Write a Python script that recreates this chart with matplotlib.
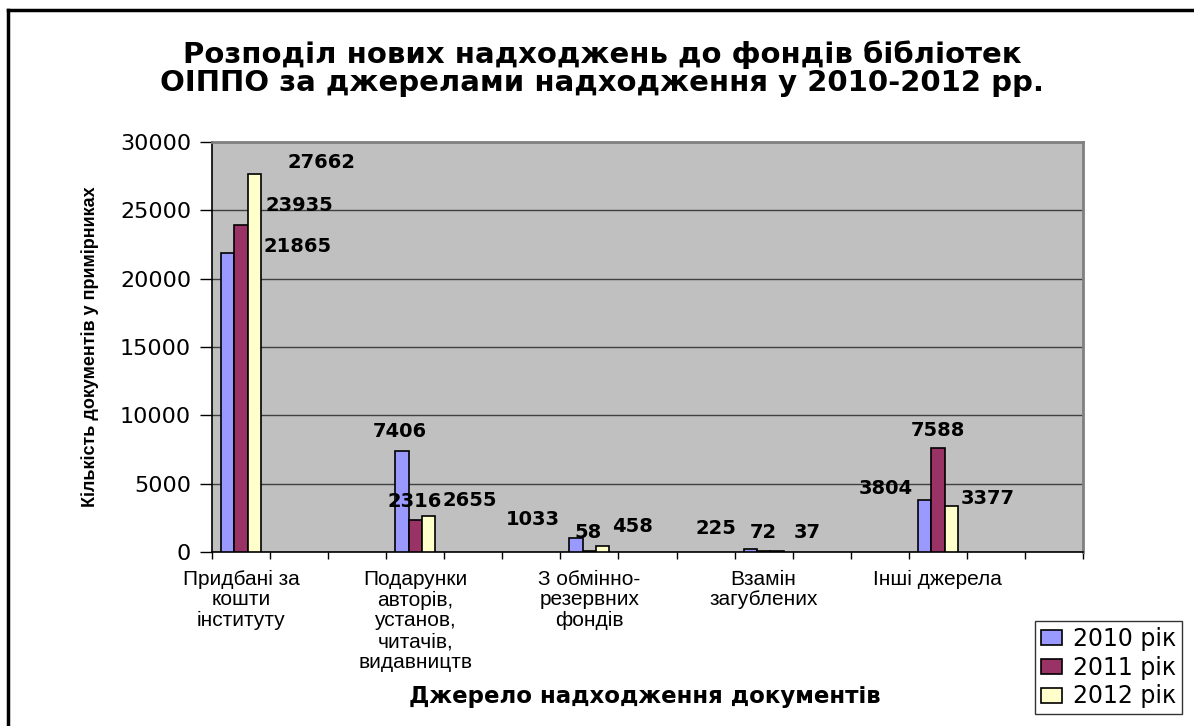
import matplotlib
matplotlib.use("Agg")
import matplotlib.pyplot as plt
from matplotlib.lines import Line2D
import numpy as np

# source categories, drawn every third slot of a 15-slot axis (as in the original sheet)
categories = ["Придбані за\nкошти\nінституту",
              "Подарунки\nавторів,\nустанов,\nчитачів,\nвидавництв",
              "З обмінно-\nрезервних\nфондів",
              "Взамін\nзагублених",
              "Інші джерела"]
years = ["2010 рік", "2011 рік", "2012 рік"]
v2010 = [21865, 7406, 1033, 225, 3804]
v2011 = [23935, 2316, 58, 72, 7588]
v2012 = [27662, 2655, 458, 37, 3377]

colors = ["#9999FF", "#993366", "#FFFFCC"]
# label offsets (pixels) from bar top centre, as Excel placed them
lbl_dx = [[70, -2, -43, -34, -39], [58, -1, -1, 0, 0], [67, 41, 30, 30, 36]]
lbl_dy = [[7, 19, 18, 20, 12], [19, 19, 19, 19, 18], [11, 15, 19, 19, 7]]

fig = plt.figure(figsize=(11.94, 7.26), dpi=100)
ax = fig.add_axes([212/1194, 1-552/726, 871/1194, 410/726])
ax.set_facecolor("#C0C0C0")

slots = 15
xpos = np.arange(0, slots, 3)[:len(categories)]
w = 0.23
series = [v2010, v2011, v2012]
for i, vals in enumerate(series):
    xs = xpos + (i-1)*w
    ax.bar(xs, vals, width=w, color=colors[i], edgecolor="black", linewidth=1.2,
           label=years[i], zorder=3)
    for j, v in enumerate(vals):
        ax.annotate(str(v), (xs[j], v), xytext=(lbl_dx[i][j], lbl_dy[i][j]),
                    textcoords="offset pixels", ha="center", va="center",
                    fontsize=14, fontweight="bold", family="DejaVu Sans", zorder=5)

ax.set_xlim(-0.5, slots-0.5)
ax.set_ylim(0, 30000)
ax.set_yticks(np.arange(0, 30001, 5000))
ax.yaxis.grid(True, color="#404040", linewidth=1)
ax.set_axisbelow(True)
ax.set_xticks(np.arange(-0.5, slots, 1))
ax.set_xticklabels([])
ax.tick_params(axis="x", direction="out", length=5, width=1)
ax.tick_params(axis="y", direction="out", length=9, width=1, labelsize=16, pad=6)
for t in ax.get_yticklabels():
    t.set_family("DejaVu Sans")
for s in ["left", "bottom"]:
    ax.spines[s].set_color("black")
    ax.spines[s].set_linewidth(1.2)
for s in ["top", "right"]:
    ax.spines[s].set_color("#808080")
    ax.spines[s].set_linewidth(2)

for x, c in zip(xpos, categories):
    ax.text(x, -0.043, c, transform=ax.get_xaxis_transform(), ha="center", va="top",
            fontsize=15, family="Liberation Sans", linespacing=1.12)

ax.set_ylabel("Кількість документів у примірниках", fontsize=13, fontweight="bold",
              family=["Liberation Sans Narrow", "Liberation Sans"], labelpad=15)
fig.text(645/1194, 1-697/726, "Джерело надходження документів", ha="center", va="center",
         fontsize=16.5, fontweight="bold", family="DejaVu Sans")
fig.text(602/1194, 1-69/726,
         "Розподіл нових надходжень до фондів бібліотек\nОІППО за джерелами надходження у 2010-2012 рр.",
         ha="center", va="center", fontsize=21, fontweight="bold", family="DejaVu Sans",
         linespacing=1.0)

leg = fig.legend(loc="upper left", bbox_to_anchor=(1035/1194, 1-621/726), frameon=True,
                 fancybox=False, edgecolor="black", handlelength=0.9, handleheight=0.6,
                 handletextpad=0.45, labelspacing=0.2, borderpad=0.25, borderaxespad=0,
                 prop={"family": "DejaVu Sans", "size": 17})
leg.get_frame().set_linewidth(1)

# outer chart border (cut off at right and bottom in the original)
fig.add_artist(Line2D([8/1194, 8/1194], [0, 1-10/726], color="black", linewidth=2.5,
                      transform=fig.transFigure))
fig.add_artist(Line2D([8/1194, 1], [1-10/726, 1-10/726], color="black", linewidth=2.5,
                      transform=fig.transFigure))

fig.savefig("out.png", dpi=100)
